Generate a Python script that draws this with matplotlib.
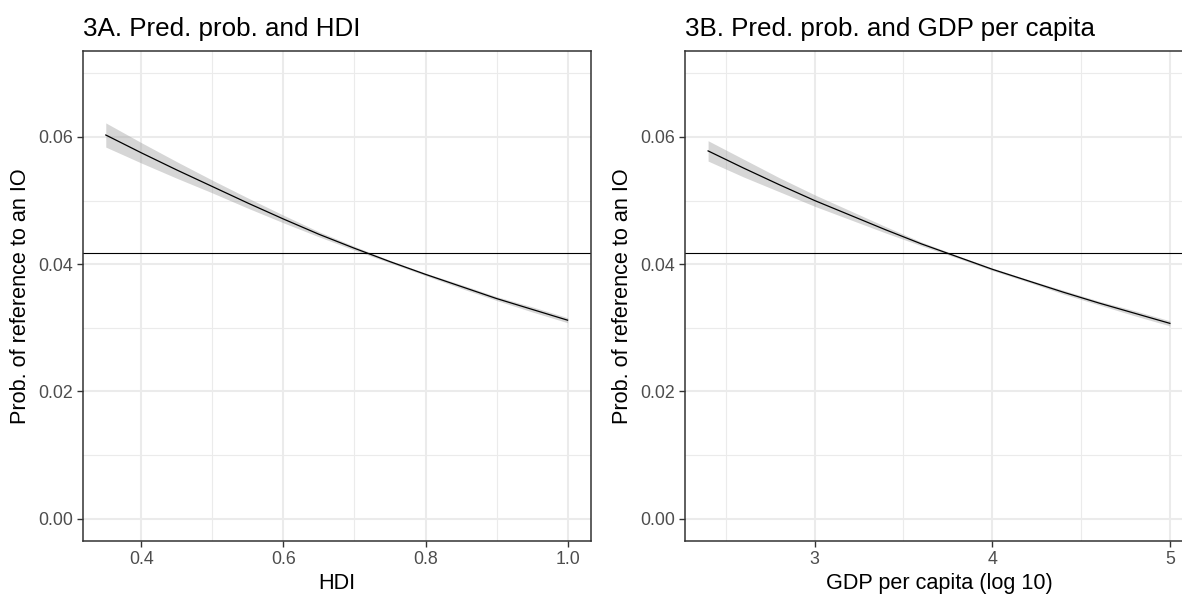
"""
Predicted probability of a reference to an IO, by HDI and GDP per capita
"""

import matplotlib
matplotlib.use('Agg')
import matplotlib.pyplot as plt
from matplotlib.ticker import MultipleLocator

# Panel A: HDI
hdi_x = [0.35, 0.40, 0.45, 0.50, 0.55, 0.60, 0.65, 0.70, 0.75, 0.80, 0.85, 0.90, 0.95, 1.00]
hdi_prob = [0.0603, 0.0575, 0.0548, 0.0522, 0.0496, 0.0471, 0.0447, 0.0425, 0.0404, 0.0384,
            0.0365, 0.0346, 0.0329, 0.0312]
hdi_lo = [0.0584, 0.0559, 0.0535, 0.0512, 0.0488, 0.0465, 0.0443, 0.0422, 0.0402, 0.0382,
          0.0362, 0.0343, 0.0325, 0.0308]
hdi_hi = [0.0622, 0.0591, 0.0561, 0.0532, 0.0504, 0.0477, 0.0451, 0.0428, 0.0406, 0.0386,
          0.0368, 0.0349, 0.0333, 0.0316]

# Panel B: GDP per capita (log 10)
gdp_x = [2.4, 2.6, 2.8, 3.0, 3.2, 3.4, 3.6, 3.8, 4.0, 4.2, 4.4, 4.6, 4.8, 5.0]
gdp_prob = [0.0578, 0.0551, 0.0525, 0.0500, 0.0477, 0.0454, 0.0432, 0.0412, 0.0392, 0.0374,
            0.0356, 0.0339, 0.0323, 0.0307]
gdp_lo = [0.0562, 0.0537, 0.0514, 0.0491, 0.0470, 0.0449, 0.0429, 0.0410, 0.0390, 0.0372,
          0.0353, 0.0336, 0.0319, 0.0303]
gdp_hi = [0.0594, 0.0565, 0.0536, 0.0509, 0.0484, 0.0459, 0.0435, 0.0414, 0.0394, 0.0376,
          0.0359, 0.0342, 0.0327, 0.0311]

# overall probability (horizontal reference line)
baseline = 0.0418

y_ticks = [0.00, 0.02, 0.04, 0.06]
y_ticklabels = ['0.00', '0.02', '0.04', '0.06']
hdi_ticks = [0.4, 0.6, 0.8, 1.0]
hdi_ticklabels = ['0.4', '0.6', '0.8', '1.0']
gdp_ticks = [3, 4, 5]
gdp_ticklabels = ['3', '4', '5']

plt.rcParams['font.family'] = ['Liberation Sans', 'DejaVu Sans']

W, H = 1182, 595


def style_panel(ax, x, lo, hi, prob, xlim, xticks, xticklabels, xminor, title, xlabel):
    """ggplot theme_bw look-alike"""
    ax.set_xlim(*xlim)
    ax.set_ylim(-0.0035, 0.0735)

    # grid
    ax.set_xticks(xticks)
    ax.set_xticklabels(xticklabels)
    ax.set_yticks(y_ticks)
    ax.set_yticklabels(y_ticklabels)
    ax.xaxis.set_minor_locator(MultipleLocator(xminor))
    ax.yaxis.set_minor_locator(MultipleLocator(0.01))
    ax.grid(True, which='major', color='#EBEBEB', linewidth=1.5)
    ax.grid(True, which='minor', color='#EBEBEB', linewidth=0.8)
    ax.set_axisbelow(True)

    # ribbon + fitted line
    ax.fill_between(x, lo, hi, color='#999999', alpha=0.4, linewidth=0)
    ax.plot(x, prob, color='black', linewidth=0.9)
    ax.axhline(baseline, color='black', linewidth=0.8)

    for sp in ax.spines.values():
        sp.set_color('#333333')
        sp.set_linewidth(1.1)
    ax.tick_params(which='major', length=4, width=1.0, color='#333333',
                   labelcolor='#4D4D4D', labelsize=12.8, pad=3)
    ax.tick_params(which='minor', length=0)

    ax.set_title(title, loc='left', fontsize=18.7, pad=11)
    ax.set_xlabel(xlabel, fontsize=15.6, labelpad=4)
    ax.set_ylabel('Prob. of reference to an IO', fontsize=15.6, labelpad=5)


fig = plt.figure(figsize=(W / 100, H / 100), dpi=100)
bottom = (H - 541) / H
height = (541 - 51) / H
ax_a = fig.add_axes([82.7 / W, bottom, 508 / W, height])
ax_b = fig.add_axes([685 / W, bottom, 508 / W, height])

style_panel(ax_a, hdi_x, hdi_lo, hdi_hi, hdi_prob, (0.3175, 1.0325),
            hdi_ticks, hdi_ticklabels, 0.1, '3A. Pred. prob. and HDI', 'HDI')
style_panel(ax_b, gdp_x, gdp_lo, gdp_hi, gdp_prob, (2.27, 5.13),
            gdp_ticks, gdp_ticklabels, 0.5, '3B. Pred. prob. and GDP per capita',
            'GDP per capita (log 10)')

fig.savefig('out.png', dpi=100)
